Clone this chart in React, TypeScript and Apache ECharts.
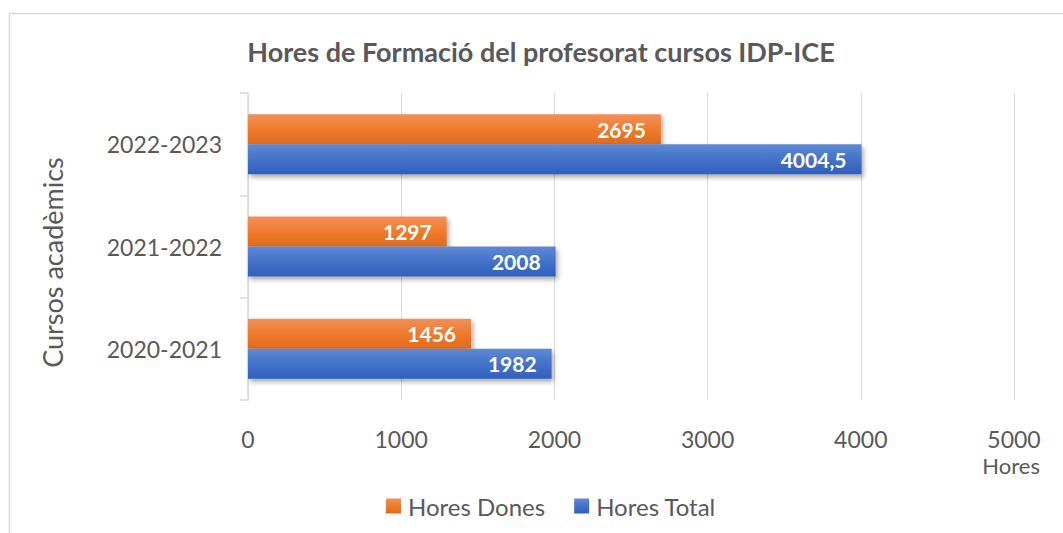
import React, { useEffect, useRef } from "react";
import * as echarts from "echarts";

const categories = ["2020-2021", "2021-2022", "2022-2023"];
const horesDones = [1456, 1297, 2695];
const horesTotal = [1982, 2008, 4004.5];
const titleText = "Hores de Formació del profesorat cursos IDP-ICE";
const seriesNames = ["Hores Dones", "Hores Total"];

const FONT = "Lato, 'Open Sans', sans-serif";
const GRAY = "#595959";

export default function App() {
  const ref = useRef<HTMLDivElement>(null);
  useEffect(() => {
    if (!ref.current) return;
    const chart = echarts.init(ref.current, undefined, { renderer: "svg" });
    const orange = new echarts.graphic.LinearGradient(0, 0, 0, 1, [
      { offset: 0, color: "#F1905A" },
      { offset: 0.5, color: "#EF7B2C" },
      { offset: 1, color: "#E06A1C" },
    ]);
    const blue = new echarts.graphic.LinearGradient(0, 0, 0, 1, [
      { offset: 0, color: "#5F89D4" },
      { offset: 0.5, color: "#4472C9" },
      { offset: 1, color: "#2F5FBC" },
    ]);
    const labelCfg = {
      show: true,
      position: "insideRight",
      distance: 15,
      color: "#ffffff",
      fontWeight: "bold",
      fontSize: 21,
      fontFamily: FONT,
      formatter: (p: any) => String(p.value).replace(".", ","),
    };
    const shadow = {
      shadowColor: "rgba(0,0,0,0.35)",
      shadowBlur: 5,
      shadowOffsetX: 2,
      shadowOffsetY: 3,
    };
    chart.setOption({
      animation: false,
      backgroundColor: "#ffffff",
      title: {
        text: titleText,
        left: 536,
        textAlign: "center",
        top: 33,
        textStyle: { color: GRAY, fontSize: 27, fontWeight: "bold", fontFamily: FONT },
      },
      legend: {
        data: seriesNames,
        left: 381,
        top: 489,
        itemWidth: 15,
        itemHeight: 15,
        itemGap: 29,
        icon: "rect",
        textStyle: { color: GRAY, fontSize: 24, fontFamily: FONT, padding: [0, 0, 0, 2] },
      },
      grid: { left: 248, right: 49, top: 93, bottom: 133, containLabel: false },
      xAxis: {
        type: "value",
        min: 0,
        max: 5000,
        interval: 1000,
        axisLine: { show: false },
        axisTick: { show: false },
        splitLine: { show: true, lineStyle: { color: "#d9d9d9", width: 1 } },
        axisLabel: {
          color: GRAY,
          fontSize: 23,
          fontFamily: FONT,
          margin: 27,
          formatter: (v: number) => String(v),
        },
      },
      yAxis: {
        type: "category",
        data: categories,
        name: "Cursos acadèmics",
        nameLocation: "middle",
        nameGap: 182,
        nameRotate: 90,
        nameTextStyle: {
          color: GRAY,
          fontSize: 27,
          fontFamily: FONT,
          padding: [0, 32, 0, 0],
        },
        axisLine: { show: true, lineStyle: { color: "#d9d9d9", width: 1.5 } },
        axisTick: { show: true, length: 8, lineStyle: { color: "#d9d9d9", width: 1.5 } },
        axisLabel: { color: GRAY, fontSize: 23, fontFamily: FONT, margin: 26 },
      },
      graphic: [
        {
          type: "rect",
          shape: { x: 9.5, y: 13.5, width: 1200, height: 700 },
          style: { fill: "none", stroke: "#d9d9d9", lineWidth: 1.5 },
          silent: true,
          z: -10,
        },
        {
          type: "text",
          x: 1040,
          y: 454,
          style: {
            text: "Hores",
            fill: GRAY,
            fontSize: 22,
            fontFamily: FONT,
            textAlign: "right",
          },
        },
      ],
      series: [
        {
          name: seriesNames[0],
          type: "bar",
          data: horesDones,
          barWidth: 30,
          barGap: "0%",
          itemStyle: { color: orange, ...shadow },
          label: labelCfg,
        },
        {
          name: seriesNames[1],
          type: "bar",
          data: horesTotal,
          barWidth: 30,
          barGap: "0%",
          itemStyle: { color: blue, ...shadow },
          label: labelCfg,
        },
      ],
    });
    return () => chart.dispose();
  }, []);
  return (
    <div
      ref={ref}
      style={{ position: "fixed", left: 0, top: 0, width: 1063, height: 533 }}
    />
  );
}
